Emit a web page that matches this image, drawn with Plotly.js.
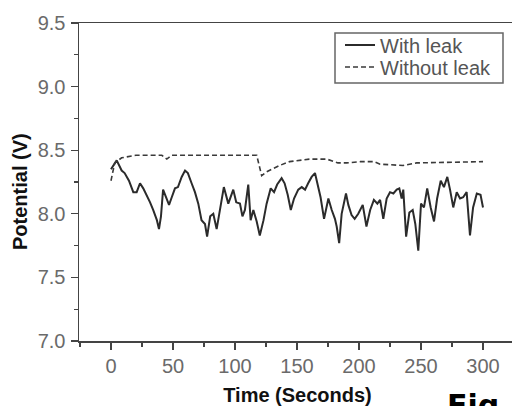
<!DOCTYPE html>
<html>
<head>
<meta charset="utf-8">
<script src="https://cdn.plot.ly/plotly-3.0.1.min.js"></script>
<style>
html,body{margin:0;padding:0;overflow:hidden;background:#fff;width:512px;height:406px;}
#chart{width:520px;height:406px;}
</style>
</head>
<body>
<div id="chart"></div>
<script>
// Time (seconds) and potential (V) for the "With leak" series
var withLeakTime = [0, 2, 4.6, 8.6, 11, 14.5, 18, 20.7, 23.4, 26, 28.8, 31.5, 34, 37, 38.7, 40.3, 42, 45, 46.8, 49,
  51.6, 54, 57, 59.7, 62, 65, 67.7, 70.4, 73, 75.8, 77.5, 80, 82.5, 85.2, 88, 91, 94.6, 98.6, 101, 104,
  106, 108, 110.7, 112.6, 114.8, 117.5, 120, 123, 125.5, 128.8, 131.5, 134, 137.6, 140, 142.5, 145, 147.6, 151, 153.8, 156.5,
  159, 161.8, 164.5, 166.4, 169, 171.8, 175.3, 178, 180.6, 182, 184, 186, 189.5, 191.4, 194, 196.5, 199.4, 203, 206, 209,
  212, 214.8, 217, 219.6, 222.3, 225, 227.7, 230.4, 232.5, 234.4, 235.7, 238, 240.6, 243.3, 245.4, 247.8, 250, 252.4, 255, 257.8,
  260.5, 263, 265.9, 268.5, 271.2, 273.4, 276, 278.8, 281.5, 284, 286.8, 289.5, 292, 295, 298, 300];
var withLeakV = [8.35, 8.38, 8.42, 8.34, 8.32, 8.26, 8.17, 8.17, 8.24, 8.20, 8.15, 8.09, 8.03, 7.95, 7.88, 7.98, 8.19, 8.12, 8.07, 8.13,
  8.20, 8.21, 8.29, 8.34, 8.32, 8.24, 8.17, 8.08, 7.95, 7.92, 7.82, 7.98, 8.00, 7.88, 8.03, 8.21, 8.08, 8.19, 8.09, 8.08,
  7.98, 8.03, 8.23, 7.95, 8.03, 7.94, 7.83, 7.95, 8.08, 8.20, 8.17, 8.23, 8.28, 8.24, 8.15, 8.03, 8.12, 8.19, 8.21, 8.19,
  8.24, 8.29, 8.32, 8.23, 8.13, 7.96, 8.12, 8.03, 7.96, 7.90, 7.77, 8.00, 8.16, 8.07, 7.99, 7.96, 8.00, 8.07, 7.90, 8.03,
  8.11, 8.08, 8.11, 7.96, 8.12, 8.17, 8.16, 8.19, 8.20, 8.12, 8.19, 7.82, 8.01, 8.03, 7.92, 7.71, 8.08, 8.05, 8.20, 8.05,
  7.94, 8.12, 8.26, 8.21, 8.29, 8.19, 8.05, 8.17, 8.12, 8.13, 8.17, 7.83, 8.05, 8.16, 8.15, 8.05];

// "Without leak" series
var withoutLeakTime = [0, 3, 8.6, 20, 41, 45, 49, 117.5, 121.5, 125.5, 136, 144, 160, 174, 183, 190, 201, 212, 217, 235.6, 246.5, 300];
var withoutLeakV = [8.26, 8.40, 8.44, 8.46, 8.46, 8.43, 8.46, 8.46, 8.30, 8.33, 8.38, 8.41, 8.43, 8.43, 8.40, 8.40, 8.41, 8.41, 8.39, 8.38, 8.40, 8.41];

var seriesNames = ["With leak", "Without leak"];
var xTickVals = [0, 50, 100, 150, 200, 250, 300];
var yTickVals = [7.0, 7.5, 8.0, 8.5, 9.0, 9.5];
var xTitle = "Time (Seconds)";
var yTitle = "Potential (V)";
var figLabel = "Fig";

var baseFont = "Liberation Sans, Arial, sans-serif";

// pixel -> paper helpers (plot area: x 79..516, y 23..341)
function px(x) { return (x - 79) / 437; }
function py(y) { return (341 - y) / 318; }

var traces = [
  {x: withLeakTime, y: withLeakV, name: seriesNames[0], type: "scatter", mode: "lines",
   line: {color: "#2b2b2b", width: 2}, legend: "legend"},
  {x: withoutLeakTime, y: withoutLeakV, name: seriesNames[1], type: "scatter", mode: "lines",
   line: {color: "#3a3a3a", width: 1.6, dash: "5px,3px"}, legend: "legend2"}
];

var axisCommon = {
  showgrid: false, zeroline: false, showline: true, linecolor: "#444", linewidth: 1.5,
  mirror: true, ticks: "outside", ticklen: 7, tickwidth: 1.3, tickcolor: "#444",
  tickfont: {family: baseFont, size: 20, color: "#6a6a6a"}
};

var legendCommon = {
  xanchor: "left", yanchor: "middle", bgcolor: "rgba(0,0,0,0)", borderwidth: 0,
  font: {family: baseFont, size: 20, color: "#555"}, itemwidth: 30
};

var layout = {
  width: 520, height: 406,
  margin: {l: 79, r: 4, t: 23, b: 65, pad: 0},
  paper_bgcolor: "#ffffff", plot_bgcolor: "#ffffff",
  showlegend: true,
  xaxis: Object.assign({}, axisCommon, {
    range: [-25.8, 326.6], tickvals: xTickVals, ticktext: xTickVals.map(String),
    minor: {dtick: 25, tick0: 0, ticks: "outside", ticklen: 4, tickcolor: "#444", tickwidth: 1.2},
    ticklabelstandoff: -1,
    title: {text: xTitle, font: {family: baseFont, size: 20, color: "#111", weight: "bold"}, standoff: 15}
  }),
  yaxis: Object.assign({}, axisCommon, {
    range: [7.0, 9.5], tickvals: yTickVals, ticktext: yTickVals.map(function(v){return v.toFixed(1);}),
    minor: {dtick: 0.25, tick0: 7, ticks: "outside", ticklen: 4, tickcolor: "#444", tickwidth: 1.2},
    ticklabelstandoff: 1,
    title: {text: ""}
  }),
  legend: Object.assign({}, legendCommon, {x: px(340), y: py(45)}),
  legend2: Object.assign({}, legendCommon, {x: px(340), y: py(67)}),
  shapes: [
    {type: "rect", xref: "paper", yref: "paper", x0: px(335), x1: px(503), y0: py(83), y1: py(33),
     line: {color: "#666", width: 1.5}, fillcolor: "rgba(0,0,0,0)", layer: "above"}
  ],
  annotations: [
    {text: yTitle, xref: "paper", yref: "paper", x: px(20), y: py(191),
     xanchor: "center", yanchor: "middle", textangle: -90, showarrow: false,
     font: {family: baseFont, size: 20, color: "#111", weight: "bold"}},
    {text: figLabel, xref: "paper", yref: "paper", x: px(445), y: py(386),
     xanchor: "left", yanchor: "top", showarrow: false,
     font: {family: "DejaVu Sans, sans-serif", size: 30, color: "#000", weight: "bold"}}
  ]
};

Plotly.newPlot("chart", traces, layout, {displayModeBar: false, staticPlot: true});
</script>
</body>
</html>
